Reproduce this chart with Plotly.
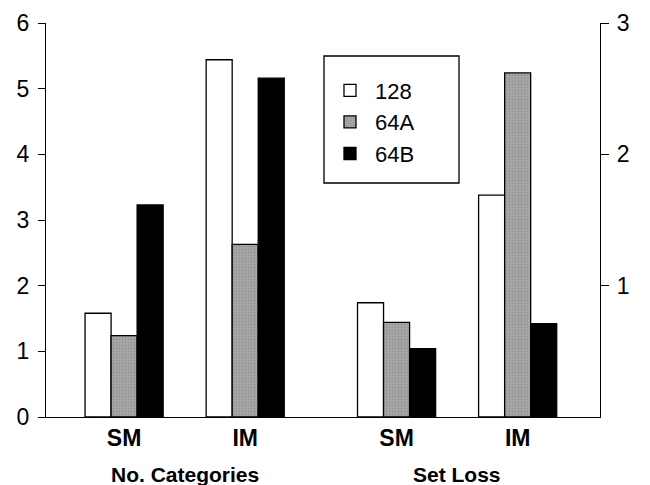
import plotly.graph_objects as go

# ---- data ----
series = ["128", "64A", "64B"]
groups_left = ["SM", "IM"]    # No. Categories (left axis)
groups_right = ["SM", "IM"]   # Set Loss (right axis)
no_categories = {
    "128": [1.58, 5.44],
    "64A": [1.24, 2.63],
    "64B": [3.23, 5.16],
}
set_loss = {
    "128": [0.87, 1.69],
    "64A": [0.72, 2.62],
    "64B": [0.52, 0.71],
}
section_titles = ["No. Categories", "Set Loss"]
left_ticks = [0, 1, 2, 3, 4, 5, 6]
right_ticks = [1, 2, 3]

# ---- layout constants ----
x_left = [0, 1]
x_right = [2.25, 3.25]
bar_w = 0.215
styles = {
    "128": dict(color="white", pattern=None),
    "64A": dict(color="#a9a9a9", pattern=dict(shape=".", fgcolor="#7a7a7a", size=3, solidity=0.35)),
    "64B": dict(color="black", pattern=None),
}
FONT = "Liberation Sans, Arial, sans-serif"

fig = go.Figure()
for i, s in enumerate(series):
    off = -1.5 * bar_w + i * bar_w
    st = styles[s]
    marker = dict(color=st["color"], line=dict(color="black", width=1.3))
    if st["pattern"]:
        marker["pattern"] = st["pattern"]
    fig.add_trace(go.Bar(
        x=x_left, y=no_categories[s], name=s, legendgroup=s,
        width=bar_w, offset=off, marker=marker, yaxis="y",
    ))
    fig.add_trace(go.Bar(
        x=x_right, y=set_loss[s], name=s, legendgroup=s, showlegend=False,
        width=bar_w, offset=off, marker=marker, yaxis="y2",
    ))

tickvals = x_left + x_right
ticktext = groups_left + groups_right

common_y = dict(showgrid=False, zeroline=False, automargin=False)
fig.update_layout(
    width=650, height=485,
    margin=dict(l=46, r=50, t=23, b=68),
    paper_bgcolor="white", plot_bgcolor="white",
    barmode="overlay",
    font=dict(family=FONT, color="black"),
    xaxis=dict(
        range=[-0.645, 3.93], tickvals=tickvals,
        ticktext=[f"<b>{t}</b>" for t in ticktext],
        tickfont=dict(size=23), showgrid=False, zeroline=False, automargin=False,
        showline=True, linecolor="black", linewidth=1.3, ticks="",
    ),
    yaxis=dict(
        range=[0, 6], tickvals=left_ticks, tickfont=dict(size=23),
        showline=True, linecolor="black", linewidth=1.3,
        ticks="outside", ticklen=7, tickwidth=1.3, tickcolor="black",
        ticklabelstandoff=4, **common_y,
    ),
    yaxis2=dict(
        range=[0, 3], tickvals=right_ticks, tickfont=dict(size=23),
        overlaying="y", side="right",
        showline=True, linecolor="black", linewidth=1.3,
        ticks="outside", ticklen=8, tickwidth=1.3, tickcolor="black",
        ticklabelstandoff=3, **common_y,
    ),
    yaxis3=dict(
        range=[0, 6], tickvals=left_ticks, overlaying="y", side="left",
        showticklabels=False, showline=False,
        ticks="inside", ticklen=7, tickwidth=1.3, tickcolor="black", **common_y,
    ),
    yaxis4=dict(
        range=[0, 3], tickvals=right_ticks, overlaying="y", side="right",
        showticklabels=False, showline=False,
        ticks="inside", ticklen=8, tickwidth=1.3, tickcolor="black", **common_y,
    ),
    legend=dict(
        x=0.5036, y=0.882, xanchor="left", yanchor="top",
        borderwidth=0, bgcolor="rgba(0,0,0,0)",
        font=dict(size=22), itemwidth=40, tracegroupgap=0,
    ),
    showlegend=True,
)

# legend frame
fig.add_shape(type="rect", xref="paper", yref="paper",
              x0=0.5018, x1=0.7455, y0=0.5939, y1=0.9162,
              line=dict(color="black", width=1.3), fillcolor="white", layer="below")

# section titles under the groups
centers = [sum(x_left) / 2, sum(x_right) / 2]
for c, t in zip(centers, section_titles):
    fig.add_annotation(x=c, y=-0.145, xref="x", yref="paper", text=f"<b>{t}</b>",
                       showarrow=False, font=dict(size=21), yanchor="middle")

fig.write_html("out.html", config={"displayModeBar": False},
               post_script="document.body.style.margin='0';")
